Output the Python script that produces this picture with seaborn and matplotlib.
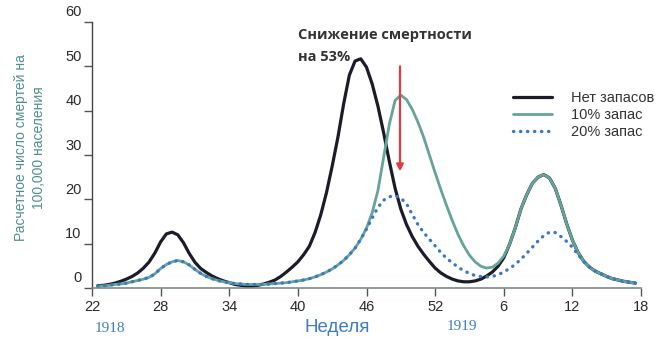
import numpy as np
import pandas as pd
import matplotlib
matplotlib.use("Agg")
import matplotlib.pyplot as plt
import seaborn as sns
from matplotlib.transforms import ScaledTranslation

# ---------------- data ----------------
# continuous week index: 22..52 are 1918 weeks, 53..70 are 1919 weeks 1..18
weeks = np.arange(22.5, 70.0, 0.5)

no_reserve = [
    0.5, 0.6, 0.8, 1.1, 1.5, 2.0, 2.6, 3.4, 4.5,
    5.9, 7.9, 10.4, 12.2, 12.6, 12.0, 10.2, 7.8, 5.8, 4.4,
    3.5, 2.7, 2.1, 1.6, 1.2, 0.8, 0.6, 0.4, 0.4, 0.6,
    0.9, 1.3, 1.8, 2.6, 3.6, 4.7, 5.9, 7.5, 9.4, 12.5,
    16.5, 21.5, 27.5, 34.0, 41.5, 48.0, 51.2, 51.7, 49.8, 46.0,
    41.0, 35.0, 28.5, 22.5, 17.8, 14.3, 11.6, 9.4, 7.6, 6.0,
    4.5, 3.4, 2.6, 2.0, 1.6, 1.4, 1.4, 1.6, 2.0, 2.7,
    3.6, 4.9, 6.8, 9.8, 13.5, 17.8, 21.0, 23.6, 25.0, 25.6,
    24.8, 22.5, 18.7, 14.5, 10.8, 8.0, 6.0, 4.7, 3.8, 3.2,
    2.6, 2.1, 1.8, 1.5, 1.3, 1.1,
]

reserve_10 = [
    0.4, 0.5, 0.6, 0.8, 0.9, 1.1, 1.4, 1.7, 2.0,
    2.4, 3.2, 4.4, 5.3, 5.9, 6.2, 5.9, 5.2, 4.2, 3.3,
    2.6, 2.1, 1.7, 1.4, 1.2, 1.0, 0.9, 0.8, 0.8, 0.8,
    0.8, 0.9, 1.0, 1.1, 1.2, 1.4, 1.6, 1.8, 2.1, 2.5,
    3.0, 3.6, 4.3, 5.2, 6.2, 7.5, 9.0, 11.0, 13.5, 17.0,
    22.0, 29.5, 37.0, 42.3, 43.5, 42.5, 40.3, 37.4, 34.0, 30.0,
    26.0, 22.2, 18.6, 15.2, 12.1, 9.5, 7.4, 5.9, 4.9, 4.5,
    4.7, 5.6, 7.2, 9.8, 13.5, 17.8, 21.0, 23.6, 25.0, 25.6,
    24.8, 22.5, 18.7, 14.5, 10.8, 8.0, 6.0, 4.7, 3.8, 3.2,
    2.6, 2.1, 1.8, 1.5, 1.3, 1.1,
]

reserve_20 = [
    0.4, 0.5, 0.6, 0.8, 0.9, 1.1, 1.4, 1.7, 2.0,
    2.4, 3.2, 4.4, 5.3, 5.9, 6.2, 5.9, 5.2, 4.2, 3.3,
    2.6, 2.1, 1.7, 1.4, 1.2, 1.0, 0.9, 0.8, 0.8, 0.8,
    0.8, 0.9, 1.0, 1.1, 1.2, 1.4, 1.6, 1.8, 2.1, 2.5,
    3.0, 3.6, 4.3, 5.2, 6.2, 7.5, 9.0, 11.0, 13.3, 15.8,
    18.2, 19.8, 20.6, 20.8, 20.3, 19.0, 16.6, 14.3, 12.5, 11.0,
    9.5, 8.0, 6.7, 5.7, 4.7, 3.9, 3.3, 2.8, 2.6, 2.5,
    2.6, 3.0, 3.6, 4.4, 5.3, 6.5, 7.8, 9.2, 10.6, 11.8,
    12.6, 12.5, 11.6, 10.5, 9.2, 7.5, 6.0, 4.7, 3.8, 3.2,
    2.6, 2.1, 1.8, 1.5, 1.3, 1.1,
]

series_labels = ["Нет запасов", "10% запас", "20% запас"]
tick_weeks = [22, 28, 34, 40, 46, 52, 58, 64, 70]
tick_labels = ["22", "28", "34", "40", "46", "52", "6", "12", "18"]
y_ticks = [0, 10, 20, 30, 40, 50, 60]

annot_lines = ["Снижение смертности", "на 53%"]
arrow_week = 48.93
arrow_from = 50.0
arrow_to = 26.3

# ---------------- figure ----------------
sns.set_theme(style="white")
plt.rcParams["font.family"] = ["Liberation Sans", "DejaVu Sans"]

W, H = 668, 345
fig = plt.figure(figsize=(W / 100, H / 100), dpi=100)
ax = fig.add_axes([92 / W, 1 - 288 / H, (641 - 92) / W, (288 - 22) / H])

sns.lineplot(x=weeks, y=no_reserve, ax=ax, color="#1c1c28", lw=2.3,
             label=series_labels[0], estimator=None, sort=False,
             solid_capstyle="round", solid_joinstyle="round")
sns.lineplot(x=weeks, y=reserve_10, ax=ax, color="#66a398", lw=2.0,
             label=series_labels[1], estimator=None, sort=False,
             solid_joinstyle="round")
sns.lineplot(x=weeks, y=reserve_20, ax=ax, color="#3a78c6", lw=2.4,
             label=series_labels[2], estimator=None, sort=False,
             linestyle=(0, (0.1, 2.0)), dash_capstyle="round")

ax.set_xlim(22, 70)
ax.set_ylim(0, 60)
ax.set_xticks(tick_weeks)
ax.set_xticklabels(tick_labels)
ax.set_yticks(y_ticks)
ax.set_yticklabels([str(v) for v in y_ticks])
ax.set_xlabel("")
ax.set_ylabel("")

sns.despine(ax=ax)
ax.spines["left"].set_color("#444444")
ax.spines["bottom"].set_color("#7a8a86")
ax.spines["left"].set_linewidth(1.0)
ax.spines["bottom"].set_linewidth(1.2)

ax.tick_params(axis="both", which="major", bottom=True, left=True,
               direction="out", length=5.5, width=1.0, color="#555555",
               labelsize=10.5, labelcolor="#2a2a2a")
ax.tick_params(axis="x", pad=3)
ax.tick_params(axis="y", pad=2)

# y tick labels sit above their ticks
off = ScaledTranslation(0, 0.11, fig.dpi_scale_trans)
for lab in ax.get_yticklabels():
    lab.set_transform(lab.get_transform() + off)

# annotation
ax.text(40.0, 57.1, annot_lines[0], fontsize=10.5, fontweight="bold",
        family=["Open Sans", "DejaVu Sans"], color="#333333",
        ha="left", va="center")
ax.text(40.0, 52.1, annot_lines[1], fontsize=10.5, fontweight="bold",
        family=["Open Sans", "DejaVu Sans"], color="#333333",
        ha="left", va="center")
ax.annotate("", xy=(arrow_week, arrow_to), xytext=(arrow_week, arrow_from),
            arrowprops=dict(arrowstyle="-|>", color="#e23a3e", lw=1.6,
                            mutation_scale=10, shrinkA=0, shrinkB=0))

# legend
leg = ax.legend(loc="upper left", bbox_to_anchor=(513 / W, 1 - 91 / H),
                bbox_transform=fig.transFigure, frameon=False, fontsize=10.5,
                handlelength=2.7, handletextpad=1.3, labelspacing=0.2,
                borderpad=0, borderaxespad=0)
for t in leg.get_texts():
    t.set_color("#333333")

# axis titles / years
fig.text(30 / W, 1 - 148 / H, "Расчетное число смертей на\n100,000 населения",
         rotation=90, ha="center", va="center", multialignment="center",
         color="#4f8f8b", fontsize=10, linespacing=1.35)
fig.text(337 / W, 1 - 328 / H, "Неделя", ha="center", va="center",
         color="#3d7cc9", fontsize=13.5)
fig.text(110 / W, 1 - 328 / H, "1918", ha="center", va="center",
         color="#3f7fc0", fontsize=11, family=["Liberation Serif", "DejaVu Serif"])
fig.text(462 / W, 1 - 327 / H, "1919", ha="center", va="center",
         color="#3f7fc0", fontsize=11, family=["Liberation Serif", "DejaVu Serif"])

fig.savefig("out.png", dpi=100)
